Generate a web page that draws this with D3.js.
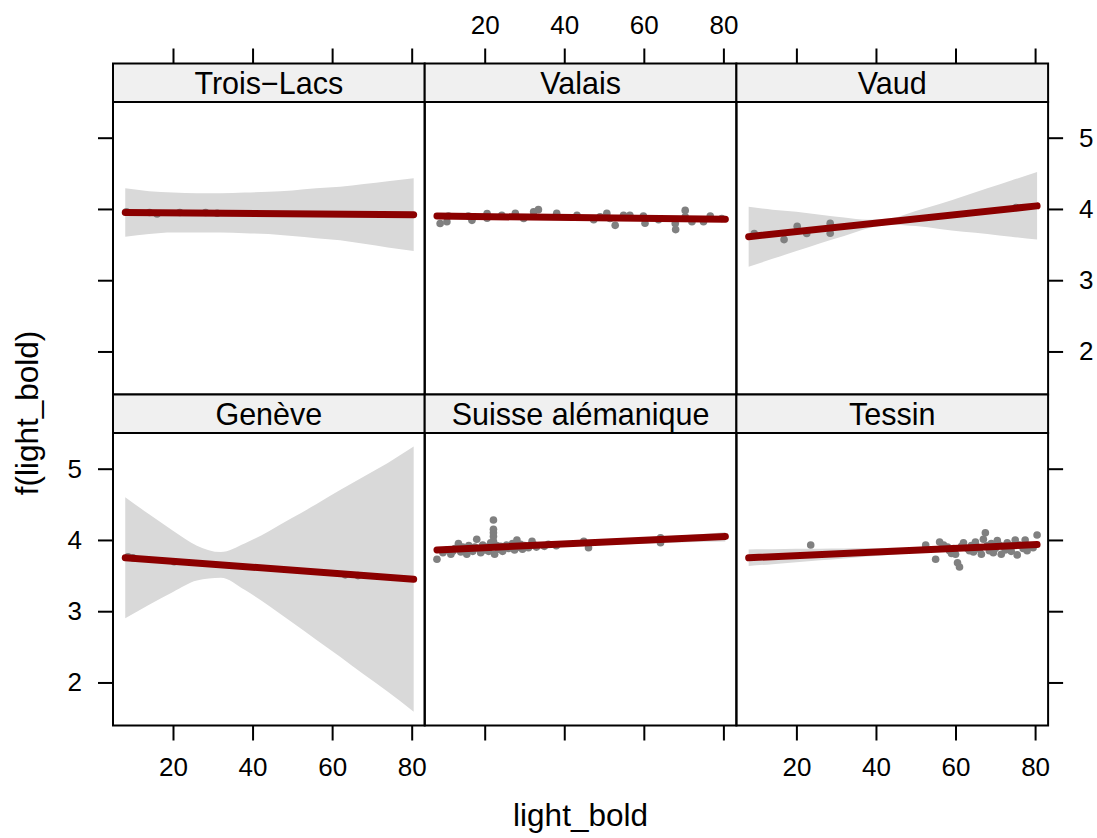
<!DOCTYPE html>
<html lang="en">
<head>
<meta charset="utf-8">
<title>light_bold by region</title>
<script src="https://cdn.jsdelivr.net/npm/d3@7/dist/d3.min.js"></script>
<style>
  body { margin: 0; background: #fff; }
  svg text { font-family: "Liberation Sans", Arial, Helvetica, sans-serif; fill: #000; }
</style>
</head>
<body>
<svg width="1097" height="838"></svg>
<script>
// panel names, in lattice order (top row then bottom row)
var regions = ["Trois\u2212Lacs", "Valais", "Vaud", "Genève", "Suisse alémanique", "Tessin"];
var xTicks = [20, 40, 60, 80];
var yTicks = [2, 3, 4, 5];

// fitted line: same x range in every panel
var fitX = [8, 80.5];
var fitTroisLacs = [3.95, 3.92];
var fitValais = [3.90, 3.855];
var fitVaud = [3.61, 4.043];
var fitGeneve = [3.75, 3.45];
var fitSuisseAl = [3.86, 4.05];
var fitTessin = [3.75, 3.935];

// confidence band, read at these x values
var bandX = [8, 14, 20, 26, 32, 38, 44, 50, 56, 62, 68, 74, 80.5];
var loTroisLacs = [3.61, 3.65, 3.67, 3.67, 3.67, 3.66, 3.65, 3.62, 3.59, 3.56, 3.51, 3.46, 3.41];
var hiTroisLacs = [4.29, 4.25, 4.23, 4.22, 4.22, 4.23, 4.24, 4.26, 4.29, 4.31, 4.35, 4.39, 4.43];
var loValais = [3.87, 3.875, 3.88, 3.88, 3.877, 3.873, 3.87, 3.865, 3.86, 3.855, 3.848, 3.84, 3.83];
var hiValais = [3.93, 3.925, 3.918, 3.912, 3.905, 3.90, 3.895, 3.89, 3.888, 3.885, 3.882, 3.878, 3.88];
var loVaud = [3.19, 3.30, 3.41, 3.52, 3.62, 3.73, 3.78, 3.76, 3.72, 3.68, 3.65, 3.61, 3.57];
var hiVaud = [4.03, 3.99, 3.96, 3.92, 3.88, 3.85, 3.87, 3.97, 4.07, 4.18, 4.29, 4.40, 4.52];
var loGeneve = [2.90, 3.09, 3.27, 3.43, 3.47, 3.30, 3.08, 2.84, 2.60, 2.36, 2.11, 1.87, 1.59];
var hiGeneve = [4.60, 4.36, 4.13, 3.92, 3.83, 3.95, 4.12, 4.31, 4.50, 4.70, 4.89, 5.08, 5.31];
var loSuisseAl = [3.825, 3.85, 3.87, 3.885, 3.90, 3.91, 3.92, 3.93, 3.94, 3.95, 3.96, 3.97, 3.98];
var hiSuisseAl = [3.895, 3.91, 3.92, 3.935, 3.95, 3.97, 3.98, 4.0, 4.02, 4.04, 4.06, 4.08, 4.11];
var loTessin = [3.633, 3.66, 3.688, 3.714, 3.741, 3.768, 3.794, 3.819, 3.844, 3.865, 3.883, 3.895, 3.90];
var hiTessin = [3.867, 3.87, 3.875, 3.878, 3.881, 3.886, 3.89, 3.895, 3.90, 3.911, 3.923, 3.941, 3.97];

// observations [light_bold, f(light_bold)]
var ptsTroisLacs = [[8.3, 3.96], [14.1, 3.95], [16, 3.93], [21.7, 3.95], [28.2, 3.95], [31.1, 3.94]];
var ptsValais = [[8.8, 3.795], [10.5, 3.82], [10.9, 3.90], [15.9, 3.90], [16.8, 3.84], [20.6, 3.935], [20.6, 3.87],
  [24.3, 3.91], [27.7, 3.94], [29.8, 3.865], [32.3, 3.96], [33.5, 3.99], [38.1, 3.94], [43.2, 3.91], [47.4, 3.85],
  [49, 3.89], [50.7, 3.94], [51.5, 3.865], [52.8, 3.77], [54.9, 3.91], [56.5, 3.91], [59.9, 3.90], [60.3, 3.80],
  [63.7, 3.85], [67.9, 3.795], [68, 3.71], [70.4, 3.98], [70.4, 3.89], [72.1, 3.82], [75, 3.82], [76.7, 3.90], [79.6, 3.865]];
var ptsVaud = [[9.4, 3.655], [16.9, 3.57], [20.2, 3.757], [22.6, 3.655], [28.5, 3.80], [28.5, 3.66], [75.2, 4.02]];
var ptsGeneve = [[8.7, 3.765], [9.9, 3.75], [20.3, 3.695], [63.3, 3.51], [66.5, 3.50]];
var ptsSuisseAl = [[8.0, 3.73], [9.5, 3.82], [10.5, 3.86], [11.5, 3.80], [12, 3.84], [12.5, 3.88], [13.4, 3.95], [14, 3.83],
  [14.5, 3.90], [15, 3.86], [15.5, 3.80], [16, 3.92], [16.5, 3.87], [17, 3.84], [17.5, 3.90], [18, 4.01], [18.5, 3.88],
  [19, 3.82], [19.5, 3.93], [20, 3.86], [20.5, 3.90], [21, 3.84], [21.5, 3.96], [22.2, 4.28], [22.2, 4.15], [22.2, 4.10],
  [22.2, 4.05], [22.2, 3.98], [22.5, 3.80], [23, 3.92], [23.5, 3.87], [24, 3.91], [24.5, 3.84], [25, 3.89], [25.5, 3.93],
  [26, 3.88], [27, 3.95], [27.5, 3.86], [28.1, 4.00], [28.5, 3.90], [29, 3.94], [29.5, 3.87], [30, 3.92], [31, 3.89],
  [31.9, 3.98], [32.5, 3.93], [33, 3.90], [35, 3.91], [36, 3.94], [38, 3.92], [44.9, 3.98], [46.1, 3.89], [64.2, 4.03], [64.2, 3.96]];
var ptsTessin = [[23.6, 3.93], [52.5, 3.93], [52.5, 3.88], [55, 3.73], [56, 3.97], [57, 3.93], [58, 3.90], [58.5, 3.85],
  [59, 3.81], [59.5, 3.88], [60, 3.80], [60.5, 3.68], [61, 3.62], [61.5, 3.91], [62, 3.96], [63, 3.88], [63.5, 3.85],
  [64, 3.92], [64.5, 3.83], [65, 3.97], [65.5, 3.90], [66, 3.87], [66.5, 3.80], [67, 4.01], [67.5, 4.10], [68, 3.92],
  [68.5, 3.85], [69, 3.95], [69.5, 3.82], [70, 3.88], [70.5, 3.99], [71, 3.93], [71.5, 3.80], [72, 3.91], [72.5, 3.86],
  [73, 3.96], [74, 3.84], [74.5, 3.92], [75, 4.00], [75.5, 3.79], [76, 3.93], [77, 3.88], [77.5, 4.00], [78, 3.85],
  [78.5, 3.91], [79.5, 3.89], [80.5, 4.07]];

var fits = [fitTroisLacs, fitValais, fitVaud, fitGeneve, fitSuisseAl, fitTessin];
var los = [loTroisLacs, loValais, loVaud, loGeneve, loSuisseAl, loTessin];
var his = [hiTroisLacs, hiValais, hiVaud, hiGeneve, hiSuisseAl, hiTessin];
var pts = [ptsTroisLacs, ptsValais, ptsVaud, ptsGeneve, ptsSuisseAl, ptsTessin];

var svg = d3.select("svg");

// layout of the trellis
var padLeft = 113, padTop = 63.5,
    panelW = 311.7, panelH = 292.5, stripH = 38.5,
    tickLen = 15;

var xDomain = [4.92, 83.27], yDomain = [1.396, 5.501];

function colX(c) { return padLeft + c * panelW; }
function rowY(r) { return padTop + r * (stripH + panelH); }

var bandColor = "#d9d9d9", pointColor = "#808080", lineColor = "#8b0000";
var blank = function() { return ""; };

regions.forEach(function(name, i) {
    var col = i % 3, row = Math.floor(i / 3);
    var x0 = colX(col), y0 = rowY(row);
    var x = d3.scaleLinear().domain(xDomain).range([x0, x0 + panelW]);
    var y = d3.scaleLinear().domain(yDomain).range([y0 + stripH + panelH, y0 + stripH]);

    var g = svg.append("g");
    var clipId = "clip" + i;
    g.append("clipPath").attr("id", clipId)
        .append("rect").attr("x", x0).attr("y", y0 + stripH).attr("width", panelW).attr("height", panelH);

    var body = g.append("g").attr("clip-path", "url(#" + clipId + ")");

    // confidence band
    var band = bandX.map(function(v, k) { return {x: v, lo: los[i][k], hi: his[i][k]}; });
    body.append("path")
        .datum(band)
        .attr("fill", bandColor)
        .attr("d", d3.area()
            .curve(d3.curveMonotoneX)
            .x(function(d) { return x(d.x); })
            .y0(function(d) { return y(d.lo); })
            .y1(function(d) { return y(d.hi); }));

    // points
    body.selectAll("circle")
        .data(pts[i])
        .enter().append("circle")
        .attr("cx", function(d) { return x(d[0]); })
        .attr("cy", function(d) { return y(d[1]); })
        .attr("r", 3.8)
        .attr("fill", pointColor);

    // fitted line
    body.append("line")
        .attr("x1", x(fitX[0])).attr("y1", y(fits[i][0]))
        .attr("x2", x(fitX[1])).attr("y2", y(fits[i][1]))
        .attr("stroke", lineColor)
        .attr("stroke-width", 7)
        .attr("stroke-linecap", "round");

    // strip
    g.append("rect")
        .attr("x", x0).attr("y", y0)
        .attr("width", panelW).attr("height", stripH)
        .attr("fill", "#f0f0f0")
        .attr("stroke", "#000").attr("stroke-width", 2);
    g.append("text")
        .attr("x", x0 + panelW / 2)
        .attr("y", y0 + stripH / 2 + 11)
        .attr("text-anchor", "middle")
        .attr("font-size", 30.5)
        .text(name);

    // panel border
    g.append("rect")
        .attr("x", x0).attr("y", y0 + stripH)
        .attr("width", panelW).attr("height", panelH)
        .attr("fill", "none")
        .attr("stroke", "#000").attr("stroke-width", 2);

    // axes, alternating like lattice
    var tickAttrs = function(sel) {
        sel.select(".domain").remove();
        sel.selectAll(".tick line").attr("stroke", "#000").attr("stroke-width", 2);
        sel.selectAll(".tick text").attr("font-size", 26).attr("fill", "#000");
    };

    if (row === 1) {
        var xb = d3.axisBottom(x).tickValues(xTicks).tickSize(tickLen).tickPadding(17);
        if (col === 1) xb.tickFormat(blank);
        g.append("g")
            .attr("transform", "translate(0," + (y0 + stripH + panelH) + ")")
            .call(xb).call(tickAttrs);
    } else {
        var xt = d3.axisTop(x).tickValues(xTicks).tickSize(tickLen).tickPadding(14.5);
        if (col !== 1) xt.tickFormat(blank);
        g.append("g")
            .attr("transform", "translate(0," + y0 + ")")
            .call(xt).call(tickAttrs);
    }

    if (col === 0) {
        var yl = d3.axisLeft(y).tickValues(yTicks).tickSize(tickLen).tickPadding(16)
            .tickFormat(row === 0 ? blank : d3.format("d"));
        g.append("g")
            .attr("transform", "translate(" + x0 + ",0)")
            .call(yl).call(tickAttrs);
    }
    if (col === 2) {
        var yr = d3.axisRight(y).tickValues(yTicks).tickSize(tickLen).tickPadding(16)
            .tickFormat(row === 1 ? blank : d3.format("d"));
        g.append("g")
            .attr("transform", "translate(" + (x0 + panelW) + ",0)")
            .call(yr).call(tickAttrs);
    }
});

// axis titles
svg.append("text")
    .attr("x", padLeft + 1.5 * panelW)
    .attr("y", 826)
    .attr("text-anchor", "middle")
    .attr("font-size", 31.5)
    .text("light_bold");

svg.append("text")
    .attr("transform", "translate(38,413) rotate(-90)")
    .attr("text-anchor", "middle")
    .attr("font-size", 31.5)
    .text("f(light_bold)");
</script>
</body>
</html>
